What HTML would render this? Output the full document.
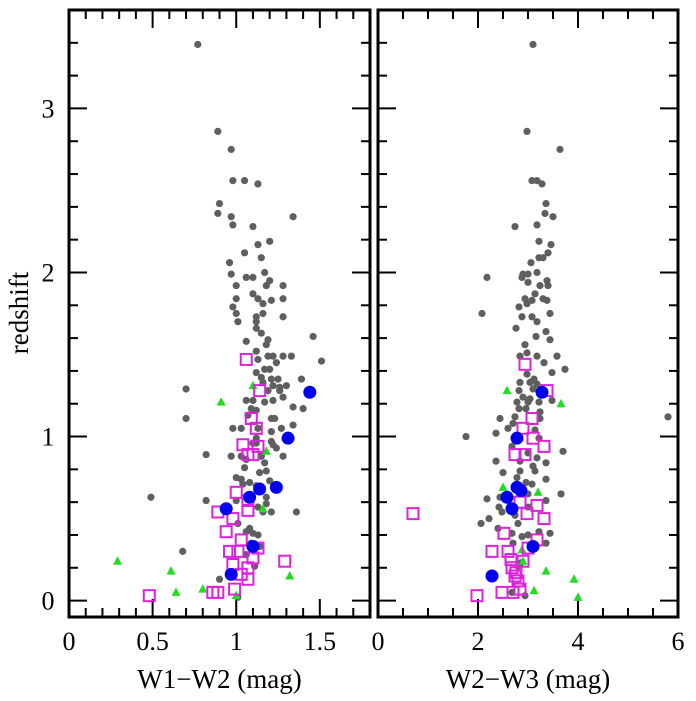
<!DOCTYPE html>
<html><head><meta charset="utf-8"><style>
html,body{margin:0;padding:0;background:#fff;width:696px;height:701px;overflow:hidden}
svg text{font-family:"Liberation Serif",serif;fill:#000}
</style></head><body>
<svg id="chart" width="696" height="701" viewBox="0 0 696 701" xmlns="http://www.w3.org/2000/svg"></svg>
<script>
// ---- data: left panel (W1-W2 vs z)
const grayW12 = [0.77,0.89,0.97,0.98,1.05,1.13,0.90,0.89,0.97,0.98,1.10,1.34,1.20,1.13,1.05,1.15,0.96,0.97,1.06,1.10,1.17,1.20,1.18,1.28,1.00,1.10,1.00,0.98,1.13,1.16,1.21,1.28,1.00,1.01,1.12,1.16,1.28,1.12,1.12,1.15,1.46,1.06,1.19,1.18,1.12,1.13,1.19,1.22,1.28,1.33,1.51,1.24,1.17,1.20,1.12,1.15,1.21,1.25,1.39,0.70,1.16,1.22,1.26,1.30,1.19,1.26,1.28,1.10,1.06,1.17,1.22,1.34,1.40,1.09,1.12,1.07,1.21,1.23,0.70,1.34,0.98,1.03,1.13,1.21,1.27,1.12,1.12,1.21,1.22,1.24,1.10,0.82,0.97,1.03,1.06,1.15,1.28,1.17,1.05,1.14,1.18,1.00,1.03,1.04,1.08,1.20,1.12,0.82,1.00,1.18,1.18,1.13,1.16,1.21,1.36,1.01,1.08,1.10,1.13,1.06,0.68,1.09,1.12,1.06,1.11,0.90,1.01,1.14,0.49];
const grayZ1 = [3.39,2.86,2.75,2.56,2.56,2.54,2.42,2.36,2.34,2.29,2.28,2.34,2.19,2.17,2.12,2.09,2.06,1.99,1.97,1.97,2.00,1.95,1.92,1.92,1.92,1.87,1.84,1.79,1.84,1.81,1.83,1.84,1.75,1.70,1.73,1.75,1.73,1.70,1.66,1.63,1.61,1.58,1.59,1.56,1.52,1.47,1.49,1.49,1.49,1.49,1.46,1.45,1.41,1.41,1.39,1.36,1.35,1.35,1.35,1.29,1.33,1.31,1.30,1.31,1.28,1.28,1.24,1.22,1.22,1.21,1.22,1.18,1.17,1.17,1.16,1.13,1.11,1.11,1.11,1.07,1.05,1.05,1.05,1.03,1.05,0.99,0.96,0.97,0.95,0.93,0.96,0.89,0.88,0.88,0.86,0.88,0.88,0.84,0.81,0.78,0.79,0.75,0.74,0.71,0.72,0.73,0.70,0.61,0.61,0.63,0.59,0.57,0.54,0.54,0.54,0.47,0.44,0.41,0.40,0.42,0.30,0.35,0.34,0.28,0.21,0.13,0.02,0.33,0.63];
const sqW12 = [1.06,1.14,1.09,1.12,1.04,1.13,1.07,1.10,1.00,1.07,1.07,0.89,0.98,0.94,1.03,0.96,1.01,1.13,1.10,0.98,1.07,1.03,1.07,1.29,0.99,0.86,0.89,0.48];
const sqZ1 = [1.47,1.28,1.11,1.05,0.95,0.94,0.89,0.89,0.66,0.61,0.55,0.54,0.50,0.42,0.37,0.30,0.30,0.32,0.26,0.22,0.20,0.16,0.13,0.24,0.07,0.05,0.05,0.03];
const blueW12 = [1.44,1.31,1.24,1.14,1.08,0.94,1.10,0.97];
const blueZ1 = [1.27,0.99,0.69,0.68,0.63,0.56,0.33,0.16];
const triW12 = [1.10,0.91,1.18,1.16,1.32,1.00,0.80,0.64,0.61,0.29];
const triZ1 = [1.31,1.21,0.91,0.56,0.15,0.03,0.07,0.05,0.18,0.24];
// ---- data: right panel (W2-W3 vs z)
const grayW23 = [3.10,2.98,3.64,3.08,3.18,3.28,3.36,3.34,3.50,2.74,3.18,3.22,3.46,3.40,3.30,3.22,3.06,2.18,2.90,3.00,2.88,3.18,3.38,3.40,3.00,3.24,3.14,2.94,3.08,2.98,2.82,3.30,3.38,2.08,2.88,3.08,3.18,3.44,2.76,3.36,3.16,3.44,2.94,2.84,2.98,3.18,3.58,3.32,3.74,3.48,2.98,3.12,2.84,3.04,3.18,2.82,3.10,2.90,3.04,2.78,3.00,3.22,3.48,2.82,2.96,3.24,2.44,2.74,3.24,2.70,2.60,2.36,1.76,3.14,3.22,3.70,2.68,3.00,3.18,2.36,2.84,3.36,3.10,2.50,3.14,2.84,3.36,2.78,2.96,3.08,3.66,2.18,2.44,3.00,3.36,2.42,2.48,2.74,3.00,2.22,2.06,2.80,2.40,2.68,3.00,3.22,3.44,2.88,2.70,3.36,2.86,2.80,2.94,2.68,5.80];
const grayZ2 = [3.39,2.86,2.75,2.56,2.56,2.54,2.42,2.36,2.34,2.28,2.29,2.19,2.17,2.12,2.09,2.09,2.06,1.97,1.99,1.99,1.97,2.00,1.95,1.92,1.94,1.92,1.87,1.84,1.83,1.81,1.79,1.84,1.83,1.75,1.73,1.73,1.70,1.75,1.66,1.64,1.61,1.59,1.56,1.49,1.51,1.49,1.49,1.45,1.41,1.39,1.38,1.35,1.33,1.33,1.32,1.28,1.29,1.24,1.23,1.21,1.21,1.21,1.22,1.17,1.17,1.15,1.11,1.12,1.11,1.08,1.05,1.02,1.00,1.04,0.99,0.91,0.94,0.90,0.87,0.85,0.85,0.84,0.82,0.78,0.79,0.79,0.74,0.75,0.72,0.71,0.65,0.62,0.63,0.65,0.61,0.57,0.54,0.52,0.57,0.50,0.47,0.47,0.44,0.41,0.40,0.42,0.41,0.39,0.35,0.35,0.23,0.21,0.03,0.05,1.12];
const sqW23 = [2.94,3.38,3.08,2.90,3.10,3.32,2.74,2.94,2.84,3.18,2.98,3.32,2.52,3.18,2.28,2.60,3.00,2.66,2.90,2.68,2.76,2.74,2.80,2.84,1.98,2.48,2.70,0.70];
const sqZ2 = [1.44,1.28,1.11,1.05,0.99,0.94,0.89,0.89,0.60,0.58,0.53,0.50,0.41,0.37,0.30,0.30,0.32,0.25,0.24,0.20,0.17,0.15,0.12,0.07,0.03,0.05,0.05,0.53];
const blueW23 = [3.28,2.78,2.78,2.86,2.58,2.68,3.10,2.28];
const blueZ2 = [1.27,0.99,0.69,0.67,0.63,0.56,0.33,0.15];
const triW23 = [2.58,3.66,3.20,2.50,2.88,2.90,3.36,3.92,3.12,4.00];
const triZ2 = [1.28,1.20,0.66,0.69,0.31,0.24,0.18,0.13,0.06,0.02];
const yTickLabels = ["0","1","2","3"];
const leftXLabels = ["0","0.5","1","1.5"];
const rightXLabels = ["0","2","4","6"];

const NS="http://www.w3.org/2000/svg";
const svg=document.getElementById('chart');
function mk(tag,attrs,parent){const e=document.createElementNS(NS,tag);for(const k in attrs)e.setAttribute(k,attrs[k]);(parent||svg).appendChild(e);return e;}
const Y0=617, Y1=10, ZMIN=-0.1, ZMAX=3.6;
function yS(z){return Y0-(z-ZMIN)/(ZMAX-ZMIN)*(Y0-Y1);}
function panel(name,x0,x1,xmin,xmax,major,minorStep,labels,xs,zs,sxs,szs,bxs,bzs,txs,tzs,title,showY){
  const g=mk('g',{});
  
  
  const xS=v=>x0+(v-xmin)/(xmax-xmin)*(x1-x0);
  const T=mk('g',{stroke:'#000','stroke-width':2},g);
  
  
  const nx=Math.round((xmax-xmin)/minorStep);
  for(let i=1;i<nx;i++){const v=xmin+i*minorStep;const isM=Math.abs(v/major-Math.round(v/major))<1e-6;const L=isM?18:9;const x=xS(v);
    mk('line',{x1:x,y1:Y0,x2:x,y2:Y0-L},T);mk('line',{x1:x,y1:Y1,x2:x,y2:Y1+L},T);}
  for(let i=1;i<=18;i++){const z=ZMIN+0.1+ (i-1)*0.2; const zz=Math.round(z*10)/10; if(zz>=ZMAX)break;const isM=Math.abs(zz-Math.round(zz))<1e-6;const L=isM?18:9;const y=yS(zz);
    mk('line',{x1:x0,y1:y,x2:x0+L,y2:y},T);mk('line',{x1:x1,y1:y,x2:x1-L,y2:y},T);}
  labels.forEach((s,i)=>{const t=mk('text',{x:xS(i*major),y:650,'text-anchor':'middle','font-size':26},g);t.textContent=s;
    
    });
  if(showY) yTickLabels.forEach((s,i)=>{const t=mk('text',{x:48,y:yS(i)+9,'text-anchor':'middle','font-size':26},g);t.textContent=s;
    
    });
  const tt=mk('text',{x:(x0+x1)/2,y:688,'text-anchor':'middle','font-size':27},g);tt.textContent=title;
  
  
  xs.forEach((v,i)=>{const c=mk('circle',{cx:xS(v),cy:yS(zs[i]),r:3.6,fill:'#5f5f5f'},g);
    
    });
  txs.forEach((v,i)=>{const x=xS(v),y=yS(tzs[i]);const p=mk('polygon',{points:`${x},${y-5} ${x-4.5},${y+3.5} ${x+4.5},${y+3.5}`,fill:'#22dd22'},g);
    
    });
  sxs.forEach((v,i)=>{const r=mk('rect',{x:xS(v)-5.5,y:yS(szs[i])-5.5,width:11,height:11,fill:'none',stroke:'#dd22dd','stroke-width':2},g);
    
    });
  bxs.forEach((v,i)=>{const c=mk('circle',{cx:xS(v),cy:yS(bzs[i]),r:6.5,fill:'#0000ee'},g);
    
    });
  const f=mk('rect',{x:x0,y:Y1,width:x1-x0,height:Y0-Y1,fill:'none',stroke:'#000','stroke-width':3},g);
  
  
}
panel('left-panel',69,370,0,1.8,0.5,0.1,leftXLabels,grayW12,grayZ1,sqW12,sqZ1,blueW12,blueZ1,triW12,triZ1,'W1\u2212W2 (mag)',true);
panel('right-panel',378,678,0,6,2,0.5,rightXLabels,grayW23,grayZ2,sqW23,sqZ2,blueW23,blueZ2,triW23,triZ2,'W2\u2212W3 (mag)',false);
const yt=mk('text',{x:0,y:0,'text-anchor':'middle','font-size':27,transform:'translate(28,313) rotate(-90)'});
yt.textContent='redshift';


</script>
</body></html>
